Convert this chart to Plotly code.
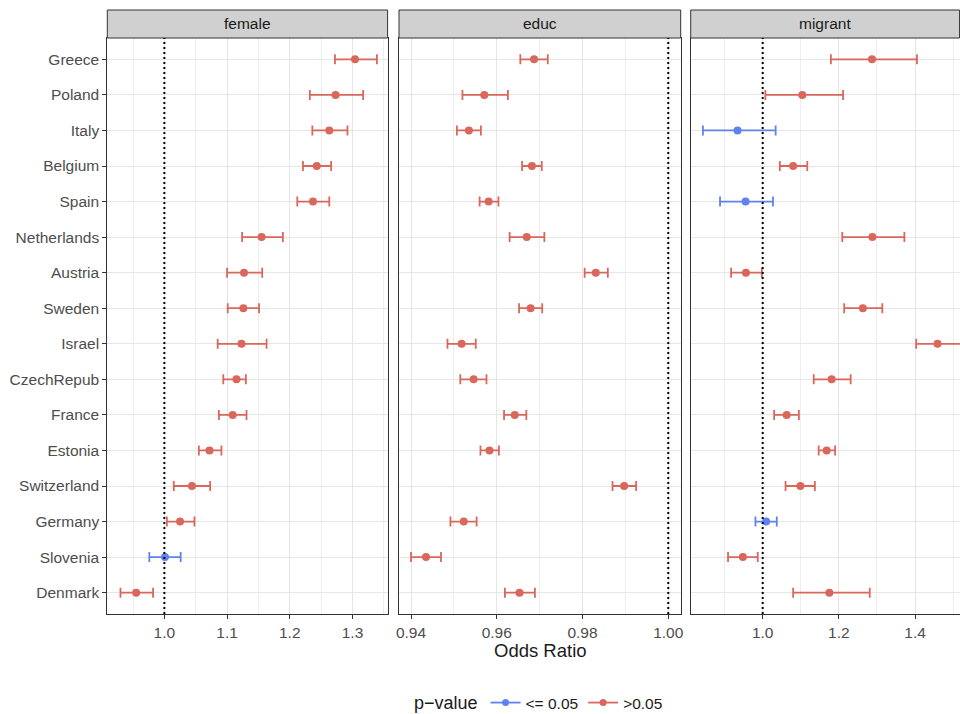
import plotly.graph_objects as go

countries = ["Greece", "Poland", "Italy", "Belgium", "Spain", "Netherlands", "Austria", "Sweden",
             "Israel", "CzechRepub", "France", "Estonia", "Switzerland", "Germany", "Slovenia", "Denmark"]

panels = ["female", "educ", "migrant"]

female_or = [1.304, 1.273, 1.263, 1.243, 1.237, 1.155, 1.127, 1.126, 1.123, 1.115, 1.109, 1.072, 1.044, 1.025, 1.001, 0.955]
female_lo = [1.272, 1.232, 1.236, 1.221, 1.212, 1.124, 1.100, 1.101, 1.085, 1.094, 1.087, 1.055, 1.015, 1.004, 0.976, 0.930]
female_hi = [1.339, 1.317, 1.292, 1.266, 1.263, 1.189, 1.156, 1.151, 1.163, 1.130, 1.131, 1.091, 1.073, 1.048, 1.026, 0.982]
female_sig = [False] * 14 + [True, False]

educ_or = [0.9687, 0.9571, 0.9535, 0.9682, 0.9581, 0.9670, 0.9831, 0.9679, 0.9518, 0.9546, 0.9642, 0.9583, 0.9897, 0.9523, 0.9435, 0.9653]
educ_lo = [0.9655, 0.9520, 0.9507, 0.9659, 0.9560, 0.9630, 0.9805, 0.9652, 0.9485, 0.9515, 0.9617, 0.9562, 0.9870, 0.9492, 0.9400, 0.9619]
educ_hi = [0.9719, 0.9626, 0.9563, 0.9705, 0.9604, 0.9711, 0.9859, 0.9706, 0.9551, 0.9576, 0.9669, 0.9605, 0.9925, 0.9553, 0.9470, 0.9689]
educ_sig = [False] * 16

migrant_or = [1.287, 1.104, 0.934, 1.080, 0.955, 1.288, 0.956, 1.263, 1.459, 1.181, 1.063, 1.168, 1.099, 1.009, 0.948, 1.175]
migrant_lo = [1.179, 1.007, 0.843, 1.045, 0.888, 1.209, 0.917, 1.214, 1.403, 1.134, 1.030, 1.147, 1.060, 0.981, 0.909, 1.080]
migrant_hi = [1.405, 1.211, 1.034, 1.117, 1.027, 1.372, 0.998, 1.314, 1.530, 1.231, 1.095, 1.190, 1.137, 1.037, 0.987, 1.281]
migrant_sig = [False, False, True, False, True, False, False, False, False, False, False, False, False, True, False, False]

legend_labels = ["<= 0.05", ">0.05"]

RED = "#D9675B"
BLUE = "#5F82EE"
FONT = "Liberation Sans, Arial, Helvetica, sans-serif"

data = {
    "female": (female_or, female_lo, female_hi, female_sig),
    "educ": (educ_or, educ_lo, educ_hi, educ_sig),
    "migrant": (migrant_or, migrant_lo, migrant_hi, migrant_sig),
}

W, H = 960, 714
ML, MR, MT, MB = 107, 0, 38, 100
pw = W - ML - MR
ph = H - MT - MB
PANEL_L = 107  # page x of plot area left
PANEL_B = 614  # page y of plot area bottom

def px(x):
    return (x - PANEL_L) / pw

def py(y):
    return (PANEL_B - y) / ph

domains = [[px(107.3), px(387.6)], [px(399.0), px(680.7)], [px(690.7), 1.0]]
xranges = [[0.909, 1.356], [0.9372, 1.0029], [0.811, 1.518]]
xticks = [[1.0, 1.1, 1.2, 1.3], [0.94, 0.96, 0.98, 1.00], [1.0, 1.2, 1.4]]
xticktext = [["1.0", "1.1", "1.2", "1.3"], ["0.94", "0.96", "0.98", "1.00"], ["1.0", "1.2", "1.4"]]
minor_dt = [0.05, 0.01, 0.1]

fig = go.Figure()

for i, p in enumerate(panels):
    orv, lo, hi, sig = data[p]
    xa = "x" if i == 0 else f"x{i+1}"
    ya = "y" if i == 0 else f"y{i+1}"
    for flag, col in [(False, RED), (True, BLUE)]:
        idx = [k for k in range(len(countries)) if sig[k] == flag]
        if not idx:
            continue
        fig.add_trace(go.Scatter(
            x=[orv[k] for k in idx],
            y=[countries[k] for k in idx],
            mode="markers",
            marker=dict(color=col, size=8),
            error_x=dict(type="data", symmetric=False,
                         array=[hi[k] - orv[k] for k in idx],
                         arrayminus=[orv[k] - lo[k] for k in idx],
                         color=col, thickness=1.8, width=5),
            xaxis=xa, yaxis=ya, showlegend=False, hoverinfo="skip",
        ))

# legend entries
fig.add_trace(go.Scatter(x=[None], y=[None], mode="lines+markers", name=legend_labels[0],
                         line=dict(color=BLUE, width=1.8), marker=dict(color=BLUE, size=7)))
fig.add_trace(go.Scatter(x=[None], y=[None], mode="lines+markers", name=legend_labels[1],
                         line=dict(color=RED, width=1.8), marker=dict(color=RED, size=7)))

layout = dict(
    width=W, height=H,
    margin=dict(l=ML, r=MR, t=MT, b=MB, autoexpand=False),
    paper_bgcolor="white", plot_bgcolor="white",
    font=dict(family=FONT, color="#4D4D4D", size=15.5),
    showlegend=True,
    legend=dict(orientation="h", x=px(540), xanchor="center", y=py(703), yanchor="middle",
                title=dict(text="p\u2212value", font=dict(size=18, color="#1A1A1A"), side="left"),
                font=dict(size=15.5, color="#1A1A1A"), bgcolor="rgba(0,0,0,0)", itemwidth=30),
)

for i in range(3):
    sfx = "" if i == 0 else str(i + 1)
    layout["xaxis" + sfx] = dict(
        domain=domains[i], range=xranges[i], anchor="y" + sfx,
        tickmode="array", tickvals=xticks[i], ticktext=xticktext[i],
        showgrid=True, gridcolor="#E6E6E6", gridwidth=1.3,
        minor=dict(dtick=minor_dt[i], tick0=1.0, showgrid=True, gridcolor="#EDEDED", gridwidth=0.8, ticks=""),
        showline=True, linecolor="#333333", linewidth=1, mirror=True,
        ticks="outside", ticklen=4, tickcolor="#333333", tickwidth=1,
        tickfont=dict(size=15.5, color="#4D4D4D"), zeroline=False,
    )
    layout["yaxis" + sfx] = dict(
        domain=[0, 1], anchor="x" + sfx, type="category", categoryarray=countries,
        categoryorder="array", range=[15.6, -0.6],
        showgrid=True, gridcolor="#E6E6E6", gridwidth=1.3,
        showline=True, linecolor="#333333", linewidth=1, mirror=True,
        ticks="outside" if i == 0 else "", ticklen=4, tickcolor="#333333", tickwidth=1,
        showticklabels=(i == 0), tickfont=dict(size=15.5, color="#4D4D4D"), zeroline=False,
    )

fig.update_layout(**layout)

strip_h = 28 / ph
shapes = []
annotations = []
for i, p in enumerate(panels):
    sfx = "" if i == 0 else str(i + 1)
    d0, d1 = domains[i]
    shapes.append(dict(type="rect", xref="paper", yref="paper", x0=d0, x1=min(d1, 0.9995), y0=1.0, y1=1.0 + strip_h,
                       fillcolor="#D0D0D0", line=dict(color="#333333", width=1), layer="above"))
    annotations.append(dict(text=p, xref="paper", yref="paper", x=(d0 + d1) / 2, y=1.0 + strip_h / 2,
                            showarrow=False, xanchor="center", yanchor="middle",
                            font=dict(size=15.5, color="#1A1A1A")))
    shapes.append(dict(type="line", xref="x" + sfx, yref="paper", x0=1.0, x1=1.0, y0=0, y1=1,
                       line=dict(color="black", width=2, dash="2px,3px"), layer="above"))

annotations.append(dict(text="Odds Ratio", xref="paper", yref="paper", x=px(540), y=py(650),
                        showarrow=False, xanchor="center", yanchor="middle",
                        font=dict(size=18.5, color="#1A1A1A")))

fig.update_layout(shapes=shapes, annotations=annotations)

fig.write_html("out.html", config={"displayModeBar": False},
               post_script="document.body.style.margin='0';document.body.style.overflow='hidden';")
